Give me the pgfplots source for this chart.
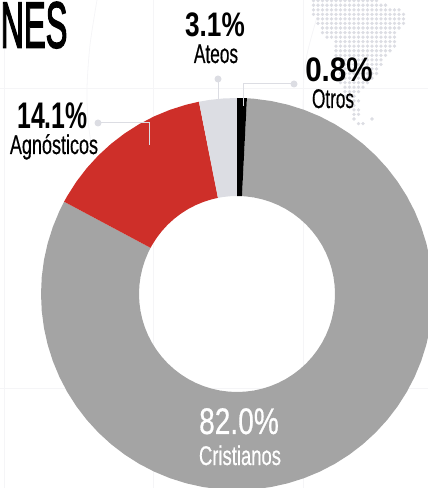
\documentclass[border=0pt]{standalone}
\usepackage{pgfplots}
\pgfplotsset{compat=1.18}
\usepackage{fontspec}
\setmainfont{Liberation Sans}
\newfontfamily\fbA[FakeBold=3]{Liberation Sans}
\newfontfamily\fbB[FakeBold=0.6]{Liberation Sans}
\definecolor{cred}{HTML}{CE2F29}
\definecolor{cgrey}{HTML}{A4A4A4}
\definecolor{clight}{HTML}{DCDDE3}
\definecolor{cfaint}{HTML}{F5F5F7}
\newcommand{\lab}[6][black]{\node[anchor=base,inner sep=0pt,text=#1] at (#2,#3) {\scalebox{#5}[1]{\fontsize{#4}{#4}\selectfont #6}};}
\begin{document}
\begin{tikzpicture}[x=1pt,y=1pt]
\useasboundingbox (0,0) rectangle (428,488);
\begin{scope}[shift={(0,488)},y=-1pt]
\draw[cfaint,line width=0.8pt] (4,0)--(4,488) (153,0)--(153,488) (303,0)--(303,488) (0,88)--(428,88) (0,388)--(428,388);
\draw[cfaint,line width=0.8pt] plot[smooth] coordinates {(97,0)(90,45)(87,88)(88,120)(92,150)};
\draw[cfaint,line width=0.8pt] plot[smooth] coordinates {(317,17)(308,50)(304,75)(303,110)};
\end{scope}
\begin{axis}[at={(0,0)},anchor=south west,scale only axis,width=428pt,height=488pt,
  xmin=-237,xmax=191,ymin=-194,ymax=294,hide axis,clip=true]
% map of dots: column and row of the dot grid
\addplot[only marks,mark=*,mark size=1.5pt,color=clight,mark options={draw=none,fill=clight}]
 table[row sep=\\,x expr={76.5+4.5*\thisrow{k}},y expr={293.3-4.55*\thisrow{n}}] {
k n\\
0 0\\1 0\\2 0\\3 0\\4 0\\5 0\\6 0\\7 0\\8 0\\9 0\\10 0\\11 0\\12 0\\13 0\\14 0\\
0 1\\1 1\\2 1\\3 1\\4 1\\5 1\\6 1\\7 1\\8 1\\9 1\\10 1\\11 1\\12 1\\13 1\\14 1\\15 1\\16 1\\
0 2\\1 2\\2 2\\3 2\\4 2\\5 2\\6 2\\7 2\\8 2\\9 2\\10 2\\11 2\\12 2\\13 2\\14 2\\15 2\\16 2\\17 2\\18 2\\19 2\\
0 3\\1 3\\2 3\\3 3\\4 3\\5 3\\6 3\\7 3\\8 3\\9 3\\10 3\\11 3\\12 3\\13 3\\14 3\\15 3\\16 3\\17 3\\18 3\\19 3\\20 3\\
1 4\\2 4\\3 4\\4 4\\5 4\\6 4\\7 4\\8 4\\9 4\\10 4\\11 4\\12 4\\13 4\\14 4\\15 4\\16 4\\17 4\\18 4\\19 4\\20 4\\
1 5\\2 5\\3 5\\4 5\\5 5\\6 5\\7 5\\8 5\\9 5\\10 5\\11 5\\12 5\\13 5\\14 5\\15 5\\16 5\\17 5\\18 5\\19 5\\20 5\\
2 6\\3 6\\4 6\\5 6\\6 6\\7 6\\8 6\\9 6\\10 6\\11 6\\12 6\\13 6\\14 6\\15 6\\16 6\\17 6\\18 6\\19 6\\
2 7\\3 7\\4 7\\5 7\\6 7\\7 7\\8 7\\9 7\\10 7\\11 7\\12 7\\13 7\\14 7\\15 7\\16 7\\17 7\\18 7\\
3 8\\4 8\\5 8\\6 8\\7 8\\8 8\\9 8\\10 8\\11 8\\12 8\\13 8\\14 8\\15 8\\16 8\\17 8\\18 8\\
5 9\\6 9\\7 9\\8 9\\9 9\\10 9\\11 9\\12 9\\13 9\\14 9\\15 9\\16 9\\17 9\\18 9\\
5 10\\6 10\\7 10\\8 10\\9 10\\10 10\\11 10\\12 10\\13 10\\14 10\\15 10\\16 10\\17 10\\18 10\\
5 11\\6 11\\7 11\\8 11\\9 11\\10 11\\11 11\\12 11\\13 11\\14 11\\15 11\\16 11\\17 11\\
5 12\\6 12\\7 12\\8 12\\9 12\\10 12\\11 12\\12 12\\13 12\\14 12\\15 12\\16 12\\
5 13\\6 13\\7 13\\8 13\\9 13\\10 13\\11 13\\12 13\\13 13\\14 13\\15 13\\
6 14\\7 14\\8 14\\9 14\\10 14\\11 14\\12 14\\13 14\\14 14\\15 14\\
6 15\\7 15\\8 15\\9 15\\10 15\\11 15\\12 15\\13 15\\14 15\\
6 16\\7 16\\8 16\\9 16\\10 16\\11 16\\12 16\\13 16\\14 16\\
6 17\\7 17\\8 17\\9 17\\10 17\\11 17\\12 17\\13 17\\
6 18\\7 18\\8 18\\9 18\\10 18\\11 18\\12 18\\
7 19\\8 19\\9 19\\10 19\\11 19\\
7 20\\8 20\\9 20\\10 20\\
7 21\\8 21\\9 21\\
8 22\\9 22\\10 22\\
8 23\\9 23\\
9 24\\10 24\\
9 25\\10 25\\
9 26\\13 26\\
10 27\\11 27\\
};
% Cristianos 82.0
\addplot[fill=cgrey,draw=none,data cs=polar] coordinates {
(87.1,196)(85,196)(80,196)(75,196)(70,196)(65,196)(60,196)(55,196)(50,196)(45,196)(40,196)(35,196)(30,196)(25,196)(20,196)(15,196)(10,196)(5,196)(0,196)
(-5,196)(-10,196)(-15,196)(-20,196)(-25,196)(-30,196)(-35,196)(-40,196)(-45,196)(-50,196)(-55,196)(-60,196)(-65,196)(-70,196)(-75,196)(-80,196)(-85,196)(-90,196)
(-95,196)(-100,196)(-105,196)(-110,196)(-115,196)(-120,196)(-125,196)(-130,196)(-135,196)(-140,196)(-145,196)(-150,196)(-155,196)(-160,196)(-165,196)(-170,196)(-175,196)(-180,196)
(-185,196)(-190,196)(-195,196)(-200,196)(-205,196)(-208.1,196)
(-208.1,98)(-205,98)(-200,98)(-195,98)(-190,98)(-185,98)
(-180,98)(-175,98)(-170,98)(-165,98)(-160,98)(-155,98)(-150,98)(-145,98)(-140,98)(-135,98)(-130,98)(-125,98)(-120,98)(-115,98)(-110,98)(-105,98)(-100,98)(-95,98)
(-90,98)(-85,98)(-80,98)(-75,98)(-70,98)(-65,98)(-60,98)(-55,98)(-50,98)(-45,98)(-40,98)(-35,98)(-30,98)(-25,98)(-20,98)(-15,98)(-10,98)(-5,98)
(0,98)(5,98)(10,98)(15,98)(20,98)(25,98)(30,98)(35,98)(40,98)(45,98)(50,98)(55,98)(60,98)(65,98)(70,98)(75,98)(80,98)(85,98)(87.1,98)
} --cycle;
% Agnosticos 14.1
\addplot[fill=cred,draw=none,data cs=polar] coordinates {
(-208.1,196)(-210,196)(-215,196)(-220,196)(-225,196)(-230,196)(-235,196)(-240,196)(-245,196)(-250,196)(-255,196)(-258.8,196)
(-258.8,98)(-255,98)(-250,98)(-245,98)(-240,98)(-235,98)(-230,98)(-225,98)(-220,98)(-215,98)(-210,98)(-208.1,98)
} --cycle;
% Ateos 3.1
\addplot[fill=clight,draw=none,data cs=polar] coordinates {
(-258.8,196)(-262,196)(-266,196)(-270,196)(-270,98)(-266,98)(-262,98)(-258.8,98)
} --cycle;
% Otros 0.8
\addplot[fill=black,draw=none,data cs=polar] coordinates {
(90,196)(88.5,196)(87.1,196)(87.1,98)(88.5,98)(90,98)
} --cycle;
\end{axis}
\begin{scope}[shift={(0,488)},y=-1pt]
\draw[clight,line width=1pt] (98,123)--(149,123)--(149,145);
\fill[clight] (98,123) circle (3.5);
\draw[clight,line width=1pt] (218,79)--(218,100);
\fill[clight] (218,79) circle (3.5);
\draw[clight,line width=1pt] (294,84)--(243.5,84)--(243.5,106);
\fill[clight] (294,84) circle (3.5);
\lab{34}{47.5}{65}{0.5}{\fbA NES}
\lab{52.5}{129}{37}{0.67}{\bfseries 14.1\%}
\lab{54}{154}{27}{0.667}{\fbB Agnósticos}
\lab{215}{37}{34}{0.77}{\bfseries 3.1\%}
\lab{216}{63}{27}{0.64}{\fbB Ateos}
\lab{339}{82}{34}{0.87}{\bfseries 0.8\%}
\lab{333}{108}{27}{0.636}{\fbB Otros}
\lab[white]{239}{434}{37}{0.76}{\fbB 82.0\%}
\lab[white]{240}{465}{27}{0.683}{\fbB Cristianos}
\end{scope}
\end{tikzpicture}
\end{document}
